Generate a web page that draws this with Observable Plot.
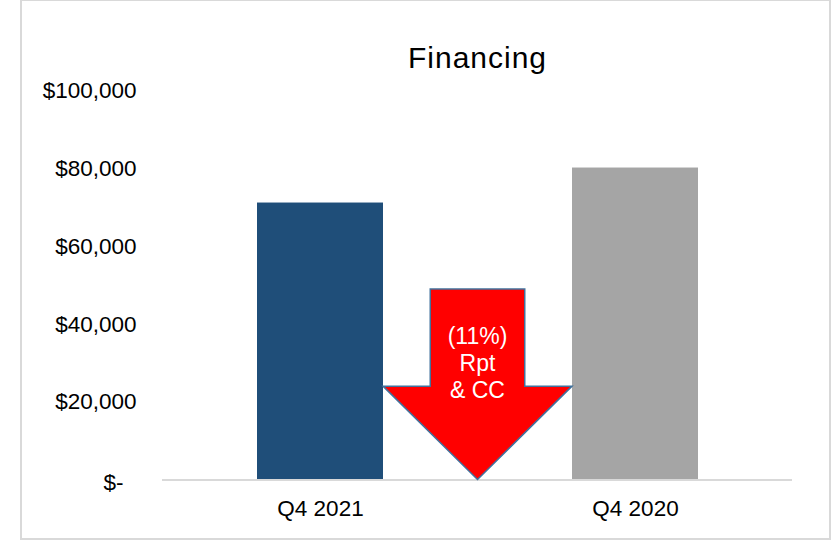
<!DOCTYPE html>
<html><head><meta charset="utf-8">
<script src="https://cdn.jsdelivr.net/npm/d3@7"></script>
<script src="https://cdn.jsdelivr.net/npm/@observablehq/plot@0.6"></script>
<style>
html,body{margin:0;padding:0;background:#fff;}
#wrap{position:relative;width:833px;height:543px;overflow:hidden;}
#border{position:absolute;left:20px;top:-1px;width:811px;height:541px;box-sizing:border-box;border:2px solid #d9d9d9;pointer-events:none;}
</style></head><body>
<div id="wrap"><div id="chart"></div><div id="border"></div></div>
<script>
const title = "Financing";
const categories = ["Q4 2021", "Q4 2020"];
const values = [71200, 80200];
const barColors = ["#1F4E79", "#A5A5A5"];
const yTicks = [0, 20000, 40000, 60000, 80000, 100000];
const arrowLevels = [49000, 24000, 0]; // shaft top, head shoulders, tip
const arrowLabel = ["(11%)", "Rpt", "& CC"];
const arrowLabelValue = 30000;

const data = categories.map((c, i) => ({cat: c, value: values[i]}));
const fmt = d => d === 0 ? "$-" : "$" + d3.format(",")(d);
const font = "'Liberation Sans', Arial, sans-serif";

const plot = Plot.plot({
  width: 833, height: 543,
  marginLeft: 162, marginRight: 41, marginTop: 90.5, marginBottom: 63.5,
  style: {fontFamily: font, background: "transparent", color: "#000", overflow: "visible"},
  x: {domain: categories, paddingInner: 0.6, paddingOuter: 0.3, label: null},
  y: {domain: [0, 100000], label: null},
  color: {domain: categories, range: barColors},
  marks: [
    Plot.barY(data, {x: "cat", y: "value", fill: "cat"}),
    Plot.ruleY([0], {stroke: "#d9d9d9", strokeWidth: 2}),
    Plot.axisY(yTicks.filter(d => d !== 0), {tickSize: 0, tickPadding: 26, tickFormat: fmt, fontSize: 22.5, label: null}),
    Plot.axisY([0], {tickSize: 0, tickPadding: 39, tickFormat: fmt, fontSize: 22.5, label: null, dy: 3}),
    Plot.axisX({tickSize: 0, tickPadding: 20, fontSize: 22.5, label: null}),
    Plot.text([title], {frameAnchor: "top", lineAnchor: "bottom", dy: -23.5, fontSize: 30, text: d => d, fill: "#000"})
  ]
});
document.getElementById("chart").appendChild(plot);

const svg = d3.select(plot);
svg.selectAll('g[aria-label="text"] text').attr("letter-spacing", "1px");

// Arrow annotation drawn through Plot's scales
const sx = plot.scale("x"), sy = plot.scale("y");
const xLeft = sx.apply(categories[0]) + sx.bandwidth;
const xRight = sx.apply(categories[1]);
const xm = (xLeft + xRight) / 2, half = (xRight - xLeft) / 4;
const [yShaft, yHead, yTip] = arrowLevels.map(v => sy.apply(v));
const pts = [
  [xm - half, yShaft], [xm + half, yShaft], [xm + half, yHead], [xRight, yHead],
  [xm, yTip], [xLeft, yHead], [xm - half, yHead]
];
svg.append("path")
  .attr("d", d3.line()(pts) + "Z")
  .attr("fill", "#FF0000")
  .attr("stroke", "#41719C")
  .attr("stroke-width", 1.5);
const t = svg.append("text")
  .attr("x", xm).attr("y", sy.apply(arrowLabelValue))
  .attr("text-anchor", "middle")
  .attr("fill", "#fff")
  .attr("font-size", 23)
  .attr("font-family", font);
arrowLabel.forEach((s, i) => {
  t.append("tspan").attr("x", xm)
    .attr("dy", i === 0 ? `${-1.17 + 0.35}em` : "1.17em")
    .text(s);
});
</script>
</body></html>
